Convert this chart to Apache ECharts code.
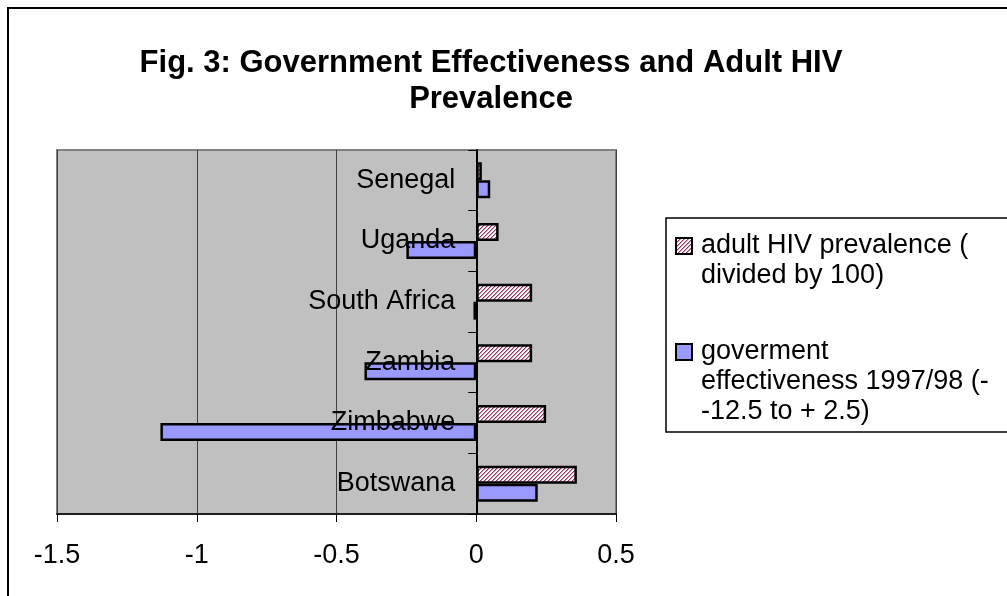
<!DOCTYPE html>
<html>
<head>
<meta charset="utf-8">
<script src="https://cdn.jsdelivr.net/npm/echarts@6/dist/echarts.min.js"></script>
<style>
  html, body { margin: 0; padding: 0; background: #ffffff; }
  #chart { width: 1007px; height: 596px; }
</style>
</head>
<body>
<div id="chart"></div>
<script>
// Countries, listed from the bottom of the chart to the top
const countries = ['Botswana', 'Zimbabwe', 'Zambia', 'South Africa', 'Uganda', 'Senegal'];
// Adult HIV prevalence, divided by 100
const hivPrevalence = [0.36, 0.25, 0.20, 0.20, 0.08, 0.02];
// Government effectiveness score 1997/98
const govEffectiveness = [0.22, -1.13, -0.40, -0.01, -0.25, 0.05];
// Value axis tick settings
const xTicks = { min: -1.5, max: 0.5, interval: 0.5 };

const hivName = 'adult HIV prevalence ( divided by 100)';
const govName = 'goverment effectiveness 1997/98 (- -12.5 to + 2.5)';

// Diagonal pink/white hatch used for the prevalence bars
function hatchPattern() {
  const c = document.createElement('canvas');
  c.width = 4; c.height = 4;
  const ctx = c.getContext('2d');
  for (let x = 0; x < 4; x++) {
    for (let y = 0; y < 4; y++) {
      const k = (x + y) % 4;
      ctx.fillStyle = k === 0 ? '#993366' : (k === 1 ? '#d49bb8' : '#ffffff');
      ctx.fillRect(x, y, 1, 1);
    }
  }
  return { image: c, repeat: 'repeat' };
}

const FONT = 'Liberation Sans, Arial, sans-serif';
const GRID = { left: 57, right: 391, top: 150, bottom: 82 };
const plotWidth = 1007 - GRID.left - GRID.right;
// the category axis sits on the zero line of the value axis
const zeroOffset = -plotWidth * (0 - xTicks.min) / (xTicks.max - xTicks.min);

const chart = echarts.init(document.getElementById('chart'), null, { renderer: 'canvas' });

const legendBase = {
  padding: 0,
  orient: 'vertical',
  itemWidth: 16, itemHeight: 16, icon: 'rect',
  selectedMode: false,
  itemStyle: { borderColor: '#000000', borderWidth: 2 },
  textStyle: { color: '#000000', fontSize: 27, lineHeight: 30, padding: [0, 0, 0, 4], fontFamily: FONT }
};

chart.setOption({
  backgroundColor: '#ffffff',
  animation: false,
  textStyle: { fontFamily: FONT },
  grid: {
    left: GRID.left, right: GRID.right, top: GRID.top, bottom: GRID.bottom,
    containLabel: false,
    outerBoundsMode: 'none',
    show: true,
    backgroundColor: '#c0c0c0',
    borderColor: '#808080',
    borderWidth: 2
  },
  xAxis: {
    type: 'value',
    min: xTicks.min, max: xTicks.max, interval: xTicks.interval,
    axisLine: { show: true, onZero: false, lineStyle: { color: '#000000', width: 1.5 } },
    axisTick: { show: true, length: 8, lineStyle: { color: '#000000', width: 1 } },
    axisLabel: { color: '#000000', fontSize: 27, margin: 28, fontFamily: FONT },
    splitLine: { show: true, lineStyle: { color: '#404040', width: 1 } }
  },
  yAxis: {
    type: 'category',
    data: countries,
    z: 5,
    offset: zeroOffset,
    axisLine: { show: true, onZero: false, lineStyle: { color: '#000000', width: 2 } },
    axisTick: { show: true, length: 8, alignWithLabel: false, lineStyle: { color: '#000000', width: 1 } },
    axisLabel: { color: '#000000', fontSize: 27, margin: 21, fontFamily: FONT },
    splitLine: { show: false }
  },
  legend: [
    Object.assign({}, legendBase, {
      data: [{ name: hivName }],
      left: 675, top: 201,
      formatter: () => ' \nadult HIV prevalence (\ndivided by 100)'
    }),
    Object.assign({}, legendBase, {
      data: [{ name: govName }],
      left: 675, top: 277,
      formatter: () => ' \n \ngoverment\neffectiveness 1997/98 (-\n-12.5 to + 2.5)'
    })
  ],
  graphic: [
    {
      type: 'rect', silent: true, z: -1,
      shape: { x: 8, y: 8, width: 1020, height: 620 },
      style: { fill: 'none', stroke: '#000000', lineWidth: 2 }
    },
    {
      type: 'rect', silent: true, z: -1,
      shape: { x: 666, y: 218, width: 400, height: 214 },
      style: { fill: '#ffffff', stroke: '#000000', lineWidth: 1.5 }
    },
    {
      type: 'text', silent: true,
      x: 491, y: 45,
      style: {
        text: 'Fig. 3: Government Effectiveness and Adult HIV\nPrevalence',
        fill: '#000000', font: 'bold 31px ' + FONT,
        align: 'center', verticalAlign: 'top', lineHeight: 36
      }
    }
  ],
  series: [
    {
      name: hivName,
      type: 'bar',
      data: hivPrevalence,
      barWidth: 18,
      barGap: '0%',
      itemStyle: { color: hatchPattern(), borderColor: '#000000', borderWidth: 2.5 }
    },
    {
      name: govName,
      type: 'bar',
      data: govEffectiveness,
      barWidth: 18,
      barGap: '0%',
      itemStyle: { color: '#9999ff', borderColor: '#000000', borderWidth: 2.5 }
    }
  ]
});
</script>
</body>
</html>
